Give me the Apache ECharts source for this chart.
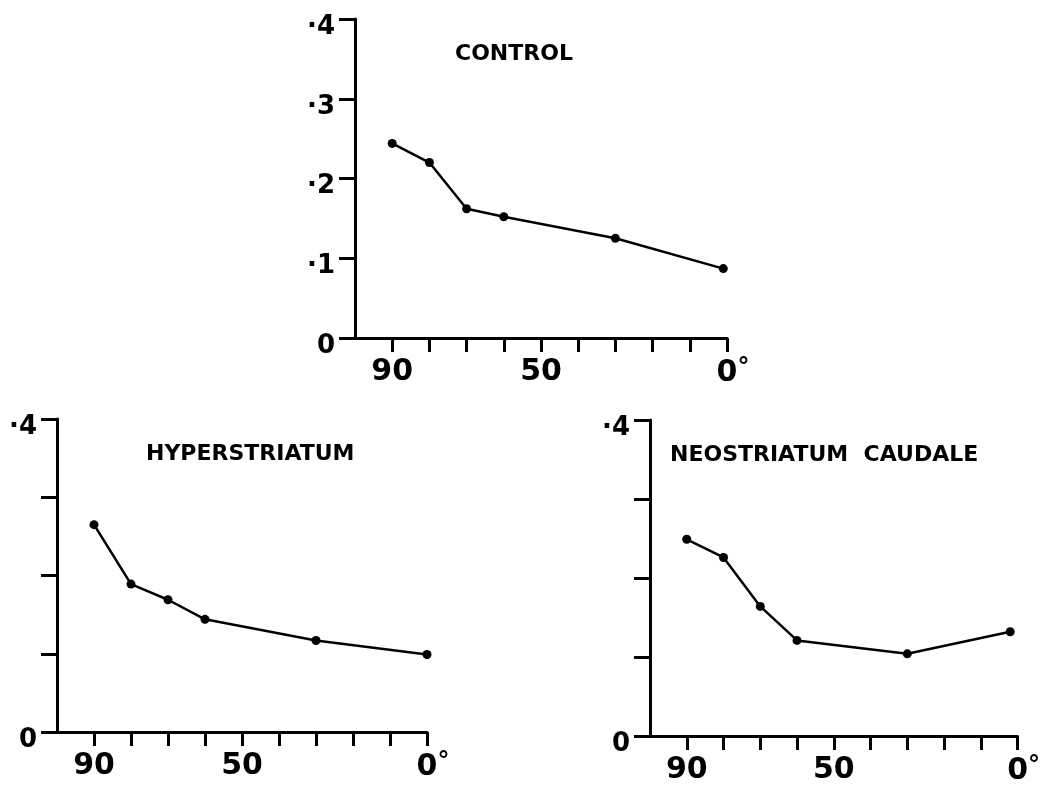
<!DOCTYPE html>
<html>
<head>
<meta charset="utf-8">
<script src="https://cdn.jsdelivr.net/npm/echarts@6/dist/echarts.min.js"></script>
<style>
html,body{margin:0;padding:0;background:#fff;}
#chart{width:1043px;height:790px;}
</style>
</head>
<body>
<div id="chart"></div>
<script>
// Data
const panelTitles = ['CONTROL', 'HYPERSTRIATUM', 'NEOSTRIATUM  CAUDALE'];
const controlAngles = [90, 80, 70, 60, 30, 1];
const controlValues = [0.244, 0.220, 0.162, 0.152, 0.125, 0.087];
const hyperAngles = [90, 80, 70, 60, 30, 0];
const hyperValues = [0.265, 0.189, 0.169, 0.144, 0.117, 0.099];
const neoAngles = [90, 80, 70, 60, 30, 2];
const neoValues = [0.249, 0.226, 0.164, 0.121, 0.104, 0.132];
const xTickValues = [0, 10, 20, 30, 40, 50, 60, 70, 80, 90];
const xLabelValues = [90, 50, 0];
const yLabelsControl = [0, 0.1, 0.2, 0.3, 0.4];
const yLabelsOther = [0, 0.4];

const FONT = 'DejaVu Sans';
const ink = '#000';

const grids = [
  {left: 355, right: 316, top: 19, bottom: 452},
  {left: 57, right: 616, top: 419, bottom: 58},
  {left: 650, right: 21, top: 420, bottom: 54}
];

function xAxisFor(i) {
  return {
    type: 'value', gridIndex: i, min: 0, max: 100, inverse: true, position: 'bottom',
    axisLine: {show: true, onZero: false, lineStyle: {color: ink, width: 3}},
    axisTick: {show: true, inside: false, length: 14, customValues: xTickValues, lineStyle: {color: ink, width: 3}},
    axisLabel: {
      show: true, customValues: xLabelValues, margin: 19,
      fontFamily: FONT, fontWeight: 'bold', fontSize: 30, color: ink,
      formatter: function (v) { return v === 0 ? '{pad|°}{z|0}{deg|°}' : String(v); },
      rich: {
        z: {fontFamily: FONT, fontWeight: 'bold', fontSize: 30, color: ink},
        pad: {fontFamily: FONT, fontWeight: 'bold', fontSize: 24, color: 'rgba(0,0,0,0)', verticalAlign: 'top'},
        deg: {fontFamily: FONT, fontWeight: 'bold', fontSize: 24, color: ink, verticalAlign: 'top', padding: [0, 0, 8, 0]}
      }
    },
    splitLine: {show: false}
  };
}

function yAxisFor(i, labelVals) {
  return {
    type: 'value', gridIndex: i, min: 0, max: 0.4, interval: 0.1, position: 'left',
    axisLine: {show: true, onZero: false, lineStyle: {color: ink, width: 3}},
    axisTick: {show: true, inside: false, length: 16, lineStyle: {color: ink, width: 3}},
    axisLabel: {
      show: true, customValues: labelVals, margin: 20,
      fontFamily: FONT, fontWeight: 'bold', fontSize: 26, color: ink,
      verticalAlign: 'top', lineHeight: 26, padding: [-5, 0, 0, 0],
      formatter: function (v) { return v === 0 ? '0' : '·' + Math.round(v * 10); }
    },
    splitLine: {show: false}
  };
}

function seriesFor(i, angles, vals) {
  return {
    type: 'line', xAxisIndex: i, yAxisIndex: i,
    data: angles.map(function (a, k) { return [a, vals[k]]; }),
    symbol: 'circle', symbolSize: 9,
    itemStyle: {color: ink},
    lineStyle: {color: ink, width: 2.5},
    animation: false
  };
}

const titlePos = [
  {left: 455, top: 43},
  {left: 146, top: 443},
  {left: 670, top: 444}
];

const option = {
  backgroundColor: '#fff',
  animation: false,
  title: panelTitles.map(function (t, i) {
    return {
      text: t, left: titlePos[i].left, top: titlePos[i].top, padding: 0,
      textStyle: {fontFamily: FONT, fontWeight: 'bold', fontSize: 22, color: ink}
    };
  }),
  grid: grids,
  xAxis: [xAxisFor(0), xAxisFor(1), xAxisFor(2)],
  yAxis: [yAxisFor(0, yLabelsControl), yAxisFor(1, yLabelsOther), yAxisFor(2, yLabelsOther)],
  series: [
    seriesFor(0, controlAngles, controlValues),
    seriesFor(1, hyperAngles, hyperValues),
    seriesFor(2, neoAngles, neoValues)
  ]
};

const chart = echarts.init(document.getElementById('chart'), null, {renderer: 'canvas'});
chart.setOption(option);
</script>
</body>
</html>
